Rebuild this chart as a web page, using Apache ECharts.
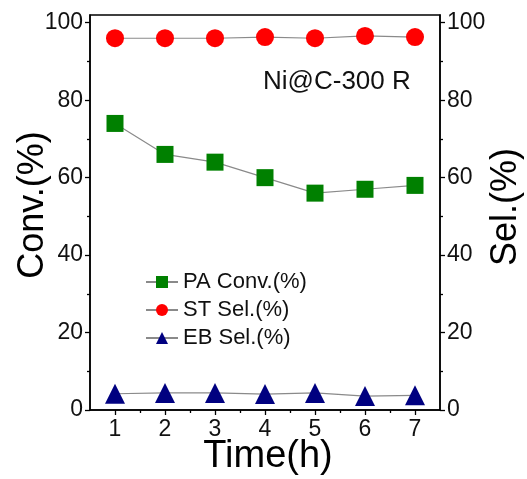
<!DOCTYPE html>
<html>
<head>
<meta charset="utf-8">
<script src="https://cdn.jsdelivr.net/npm/echarts@6/dist/echarts.min.js"></script>
<style>
  html, body { margin: 0; padding: 0; background: #fff; }
  #chart { width: 527px; height: 479px; }
</style>
</head>
<body>
<div id="chart"></div>
<script>
// data
const timeH = [1, 2, 3, 4, 5, 6, 7];
const paConv = [74, 66, 64, 60, 56, 57, 58];
const stSel = [96, 96, 96, 96.3, 96, 96.6, 96.3];
const ebSel = [4.2, 4.4, 4.4, 4.1, 4.4, 3.6, 3.8];
const xTicks = [1, 2, 3, 4, 5, 6, 7];
const xMinor = [1.5, 2.5, 3.5, 4.5, 5.5, 6.5];
const yTicks = [0, 20, 40, 60, 80, 100];
const yMinor = [10, 30, 50, 70, 90];

const font = 'Liberation Sans, Arial, sans-serif';
const lineGray = '#8a8a8a';

const chart = echarts.init(document.getElementById('chart'));

const pairs = arr => timeH.map((t, i) => [t, arr[i]]);

const yMain = (pos) => ({
  type: 'value',
  position: pos,
  min: 0,
  max: 102,
  axisLine: { show: true, lineStyle: { color: '#000', width: 1.5 } },
  axisTick: { show: true, customValues: yTicks, length: 5, inside: false, lineStyle: { color: '#000', width: 1.3 } },
  axisLabel: { customValues: yTicks, color: '#111', fontSize: 23, fontFamily: font, margin: 7 },
  splitLine: { show: false }
});

const yMinorAxis = (pos) => ({
  type: 'value',
  position: pos,
  min: 0,
  max: 102,
  axisLine: { show: false },
  axisTick: { show: true, customValues: yMinor, length: 3, lineStyle: { color: '#000', width: 1.3 } },
  axisLabel: { show: false },
  splitLine: { show: false }
});

chart.setOption({
  animation: false,
  grid: {
    left: 90, right: 87, top: 15, bottom: 69,
    show: true, borderColor: '#000', borderWidth: 1.5
  },
  xAxis: [
    {
      type: 'value',
      min: 0.5,
      max: 7.5,
      axisLine: { show: true, lineStyle: { color: '#000', width: 1.5 } },
      axisTick: { show: true, customValues: xTicks, length: 5, lineStyle: { color: '#000', width: 1.3 } },
      axisLabel: { customValues: xTicks, color: '#111', fontSize: 23, fontFamily: font, margin: 8 },
      splitLine: { show: false }
    },
    {
      type: 'value',
      position: 'bottom',
      min: 0.5,
      max: 7.5,
      axisLine: { show: false },
      axisTick: { show: true, customValues: xMinor, length: 3, lineStyle: { color: '#000', width: 1.3 } },
      axisLabel: { show: false },
      splitLine: { show: false }
    }
  ],
  yAxis: [yMain('left'), yMain('right'), yMinorAxis('left'), yMinorAxis('right')],
  legend: {
    orient: 'vertical',
    left: 140,
    top: 266,
    itemWidth: 32,
    itemHeight: 15,
    itemGap: 6,
    textStyle: { fontSize: 22, fontFamily: font, color: '#111' },
    data: ['PA Conv.(%)', 'ST Sel.(%)', 'EB Sel.(%)']
  },
  graphic: [
    {
      type: 'text', x: 263, y: 82,
      style: { text: 'Ni@C-300 R', font: '26px ' + font, fill: '#111', verticalAlign: 'middle', align: 'left' }
    },
    {
      type: 'text', x: 33, y: 205, rotation: Math.PI / 2,
      style: { text: 'Conv.(%)', font: '36px ' + font, fill: '#000', align: 'center', verticalAlign: 'middle' }
    },
    {
      type: 'text', x: 506, y: 207, rotation: Math.PI / 2,
      style: { text: 'Sel.(%)', font: '36px ' + font, fill: '#000', align: 'center', verticalAlign: 'middle' }
    },
    {
      type: 'text', x: 268, y: 457,
      style: { text: 'Time(h)', font: '38px ' + font, fill: '#000', align: 'center', verticalAlign: 'middle' }
    }
  ],
  series: [
    {
      name: 'PA Conv.(%)', type: 'line', yAxisIndex: 0,
      data: pairs(paConv),
      symbol: 'rect', symbolSize: 17,
      itemStyle: { color: '#008000' },
      lineStyle: { color: lineGray, width: 1.2 }
    },
    {
      name: 'ST Sel.(%)', type: 'line', yAxisIndex: 1,
      data: pairs(stSel),
      symbol: 'circle', symbolSize: 18,
      itemStyle: { color: '#ff0000' },
      lineStyle: { color: lineGray, width: 1.2 }
    },
    {
      name: 'EB Sel.(%)', type: 'line', yAxisIndex: 1,
      data: pairs(ebSel),
      symbol: 'triangle', symbolSize: 20,
      itemStyle: { color: '#000080' },
      lineStyle: { color: lineGray, width: 1.2 }
    }
  ]
});
</script>
</body>
</html>
